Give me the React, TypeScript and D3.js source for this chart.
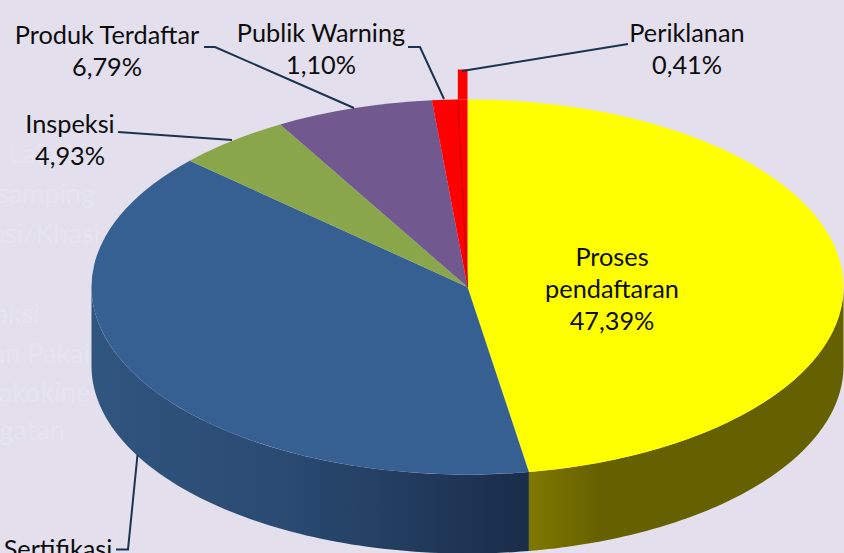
import * as d3 from "d3";

// ── Data ──────────────────────────────────────────────
const categories = ["Proses pendaftaran", "Sertifikasi", "Inspeksi", "Produk Terdaftar", "Publik Warning", "Periklanan"];
const shares = [47.39, 39.38, 4.93, 6.79, 1.1, 0.41];
const shareLabels = ["47,39%", "39,38%", "4,93%", "6,79%", "1,10%", "0,41%"];
const sliceColors = ["#ffff00", "#376092", "#8aa64b", "#71588f", "#ff0000", "#ff0000"];
const ghostLines = ["Lain Hal", "samping", "asi/Khasi", "aksi", "an Pakai", "akokine", "gatan"];

// ── Layout ────────────────────────────────────────────
const W = 844;
const H = 553;
const CX = 467.5;
const CY = 287;
const RX = 376;
const RY = 187.5;
const DEPTH = 79;
const LIFT = 30; // height of the pulled up Periklanan sliver
const BG = "#e3dfed";
const LEADER = "#1a3350";
const FONT = "Lato, 'Open Sans', sans-serif";

const ghostPos: [number, number][] = [
  [105, 163], [95, 203], [100, 243], [40, 323], [90, 363], [90, 402], [65, 440],
];

const labels = [
  { lines: ["Proses", "pendaftaran", shareLabels[0]], x: 612, y: 266 },
  { lines: [categories[2], shareLabels[2]], x: 70, y: 133 },
  { lines: [categories[3], shareLabels[3]], x: 107, y: 44 },
  { lines: [categories[4], shareLabels[4]], x: 321, y: 42 },
  { lines: [categories[5], shareLabels[5]], x: 687, y: 42 },
  { lines: [categories[1]], x: 58, y: 558 },
];

const leaders: [number, number][][] = [
  [[118, 132], [232, 140]],
  [[204, 47], [215, 47], [354, 108]],
  [[408, 47], [420, 47], [444, 99]],
  [[462, 71], [628, 44]],
  [[116, 549.5], [128, 549.5], [137.5, 455]],
];

// ── Geometry helpers ──────────────────────────────────
const pie = d3.pie<number>().sort(null);
const slices = pie(shares);
const arc = d3.arc<d3.PieArcDatum<number>>().innerRadius(0).outerRadius(RX);

const rim = (a: number, dy: number): [number, number] => [
  CX + RX * Math.sin(a),
  CY - RY * Math.cos(a) + dy,
];

// band between the rim and the same rim moved by dy
function wallPath(a0: number, a1: number, dyTop: number, dyBottom: number) {
  const angle = d3.scaleLinear().domain([0, 80]).range([a0, a1]);
  const steps = d3.range(81).map((i) => angle(i));
  const line = d3.line();
  const upper = steps.map((a) => rim(a, dyTop));
  const lower = steps.slice().reverse().map((a) => rim(a, dyBottom));
  return line([...upper, ...lower]) + "Z";
}

const yellow = slices[0];
const blue = slices[1];
const sliver = slices[5];

export default function App() {
  return (
    <svg
      width={W}
      height={H}
      viewBox={`0 0 ${W} ${H}`}
      style={{ position: "absolute", left: 0, top: 0, display: "block", background: BG }}
      fontFamily={FONT}
    >
      <defs>
        <linearGradient id="wallYellow" gradientUnits="userSpaceOnUse" x1={528} x2={600} y1={0} y2={0}>
          <stop offset="0" stopColor="#807900" />
          <stop offset="1" stopColor="#666100" />
        </linearGradient>
        <linearGradient id="wallBlue" gradientUnits="userSpaceOnUse" x1={91} x2={528} y1={0} y2={0}>
          <stop offset="0" stopColor="#30557f" />
          <stop offset="0.45" stopColor="#2a4a72" />
          <stop offset="1" stopColor="#1a2d4a" />
        </linearGradient>
      </defs>

      {/* faint text left over behind the chart */}
      <g fontSize={27} fill="#e5e5f1" textAnchor="end">
        {ghostLines.map((t, i) => (
          <text key={t} x={ghostPos[i][0]} y={ghostPos[i][1]}>
            {t}
          </text>
        ))}
      </g>

      {/* side walls */}
      <path d={wallPath(Math.PI / 2, yellow.endAngle, 0, DEPTH)} fill="url(#wallYellow)" />
      <path d={wallPath(blue.startAngle, (3 * Math.PI) / 2, 0, DEPTH)} fill="url(#wallBlue)" />

      {/* top faces */}
      <g transform={`translate(${CX},${CY}) scale(1,${RY / RX})`}>
        {slices.map((d, i) => (
          <path key={categories[i]} d={arc(d) ?? ""} fill={sliceColors[i]} />
        ))}
      </g>

      {/* Periklanan sliver, lifted */}
      <path d={wallPath(sliver.startAngle, sliver.endAngle, -LIFT, 0)} fill="#ff0000" />
      <path
        d={d3.line()([rim(sliver.startAngle, 0), [CX, CY]]) ?? ""}
        stroke="#c00000"
        strokeWidth={1}
        fill="none"
      />

      {/* leader lines */}
      {leaders.map((pts, i) => (
        <path key={i} d={d3.line()(pts) ?? ""} fill="none" stroke={LEADER} strokeWidth={2} />
      ))}

      {/* labels */}
      <g fontSize={25.3} fill="#0d0d0d" textAnchor="middle">
        {labels.map((l) => (
          <text key={l.lines[0]} x={l.x} y={l.y}>
            {l.lines.map((r, i) => (
              <tspan key={r} x={l.x} dy={i === 0 ? 0 : 32}>
                {r}
              </tspan>
            ))}
          </text>
        ))}
      </g>
    </svg>
  );
}
